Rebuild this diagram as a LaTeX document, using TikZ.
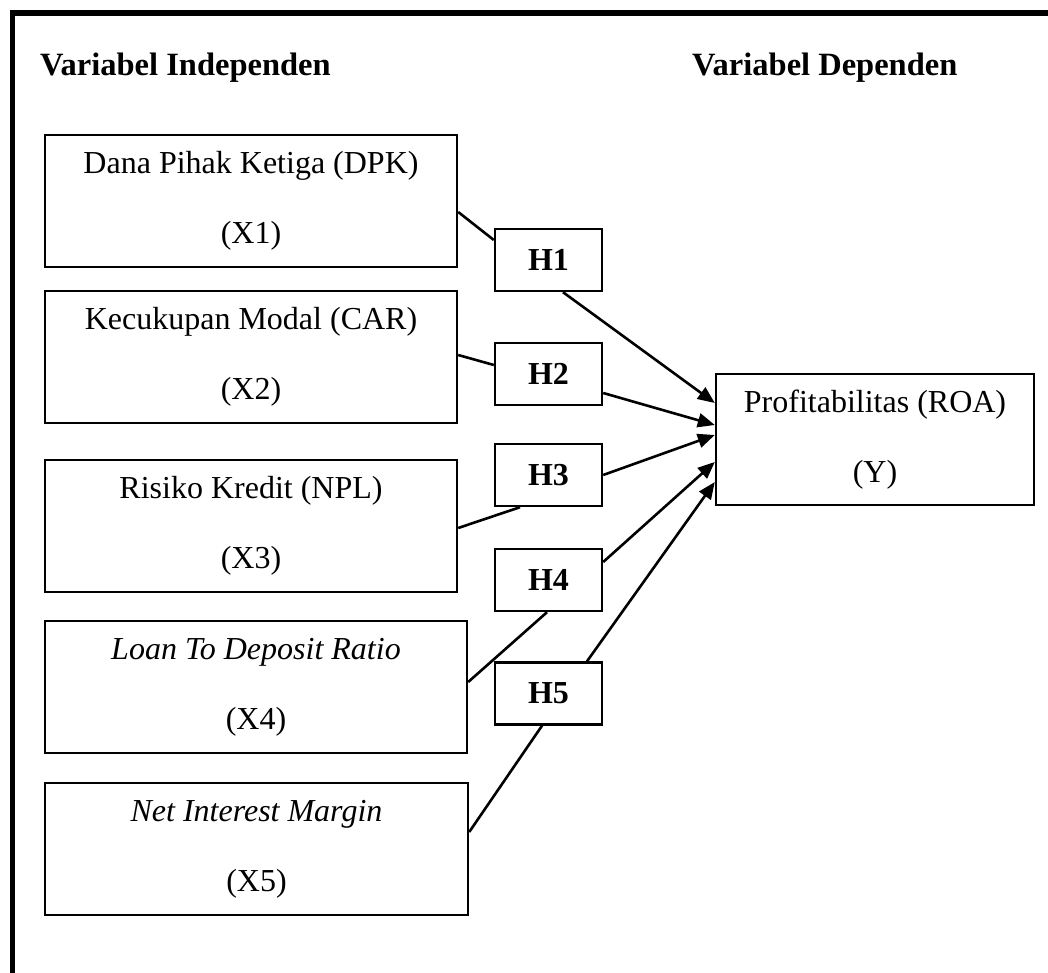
\documentclass[tikz,border=0pt]{standalone}
\usepackage{fontspec}
\setmainfont{Liberation Serif}
\usetikzlibrary{arrows.meta,calc}
\begin{document}
\begin{tikzpicture}[x=1pt,y=-1pt,
  varbox/.style={draw,line width=2.4pt,inner sep=0pt,align=center,
    font=\fontsize{32}{70}\selectfont},
  hbox/.style={draw,line width=2.4pt,inner sep=0pt,minimum width=107pt,
    minimum height=62pt,font=\fontsize{32}{36}\selectfont\bfseries},
  title/.style={anchor=base west,inner sep=0pt,
    font=\fontsize{32.5}{36}\selectfont\bfseries},
  link/.style={line width=2.6pt},
  effect/.style={line width=2.6pt,-{Triangle[length=17pt,width=14pt]}}]
\useasboundingbox (0,0) rectangle (1048,973);
% frame
\draw[line width=5.5pt,line join=miter] (12.5,980) -- (12.5,13) -- (1060,13);
% headings
\node[title] (tind) at (40,76) {Variabel Independen};
\node[title] (tdep) at (692,76) {Variabel Dependen};
% independent variables
\node[varbox,minimum width=412pt,minimum height=132pt] (X1) at (251,201)
  {Dana Pihak Ketiga (DPK)\\(X1)};
\node[varbox,minimum width=412pt,minimum height=132pt] (X2) at (251,357)
  {Kecukupan Modal (CAR)\\(X2)};
\node[varbox,minimum width=412pt,minimum height=132pt] (X3) at (251,526)
  {Risiko Kredit (NPL)\\(X3)};
\node[varbox,minimum width=422pt,minimum height=132pt] (X4) at (256,687)
  {\textit{Loan To Deposit Ratio}\\(X4)};
\node[varbox,minimum width=423pt,minimum height=132pt] (X5) at (256.5,849)
  {\textit{Net Interest Margin}\\(X5)};
% dependent variable
\node[varbox,minimum width=318pt,minimum height=131pt] (Y) at (875,439.5)
  {Profitabilitas (ROA)\\(Y)};
% hypotheses
\node[hbox] (H1) at (548.5,260) {H1};
\node[hbox] (H2) at (548.5,374) {H2};
\node[hbox] (H3) at (548.5,475) {H3};
\node[hbox] (H4) at (548.5,580) {H4};
\node[hbox] (H5) at (548.5,693.5) {H5};
% variable -> hypothesis
\draw[link] ($(X1.east)+(0,11)$) -- ($(H1.west)+(0,-20)$);
\draw[link] ($(X2.east)+(0,-2)$) -- ($(H2.west)+(0,-9)$);
\draw[link] ($(X3.east)+(0,2)$) -- ($(H3.south)+(-28.5,0)$);
\draw[link] ($(X4.east)+(0,-5)$) -- ($(H4.south)+(-1.5,0)$);
\draw[link] ($(X5.east)+(0,-17)$) -- ($(H5.south)+(-6.5,0)$);
% hypothesis -> dependent
\draw[effect] ($(H1.south)+(14.5,0)$) -- ($(Y.west)+(0,-36.5)$);
\draw[effect] ($(H2.east)+(0,19)$) -- ($(Y.west)+(0,-14.5)$);
\draw[effect] ($(H3.east)+(0,0)$) -- ($(Y.west)+(0,-4.5)$);
\draw[effect] ($(H4.east)+(0,-18)$) -- ($(Y.west)+(0,22.5)$);
\draw[effect] ($(H5.north)+(38.5,0)$) -- ($(Y.west)+(0,42.5)$);
\end{tikzpicture}
\end{document}
